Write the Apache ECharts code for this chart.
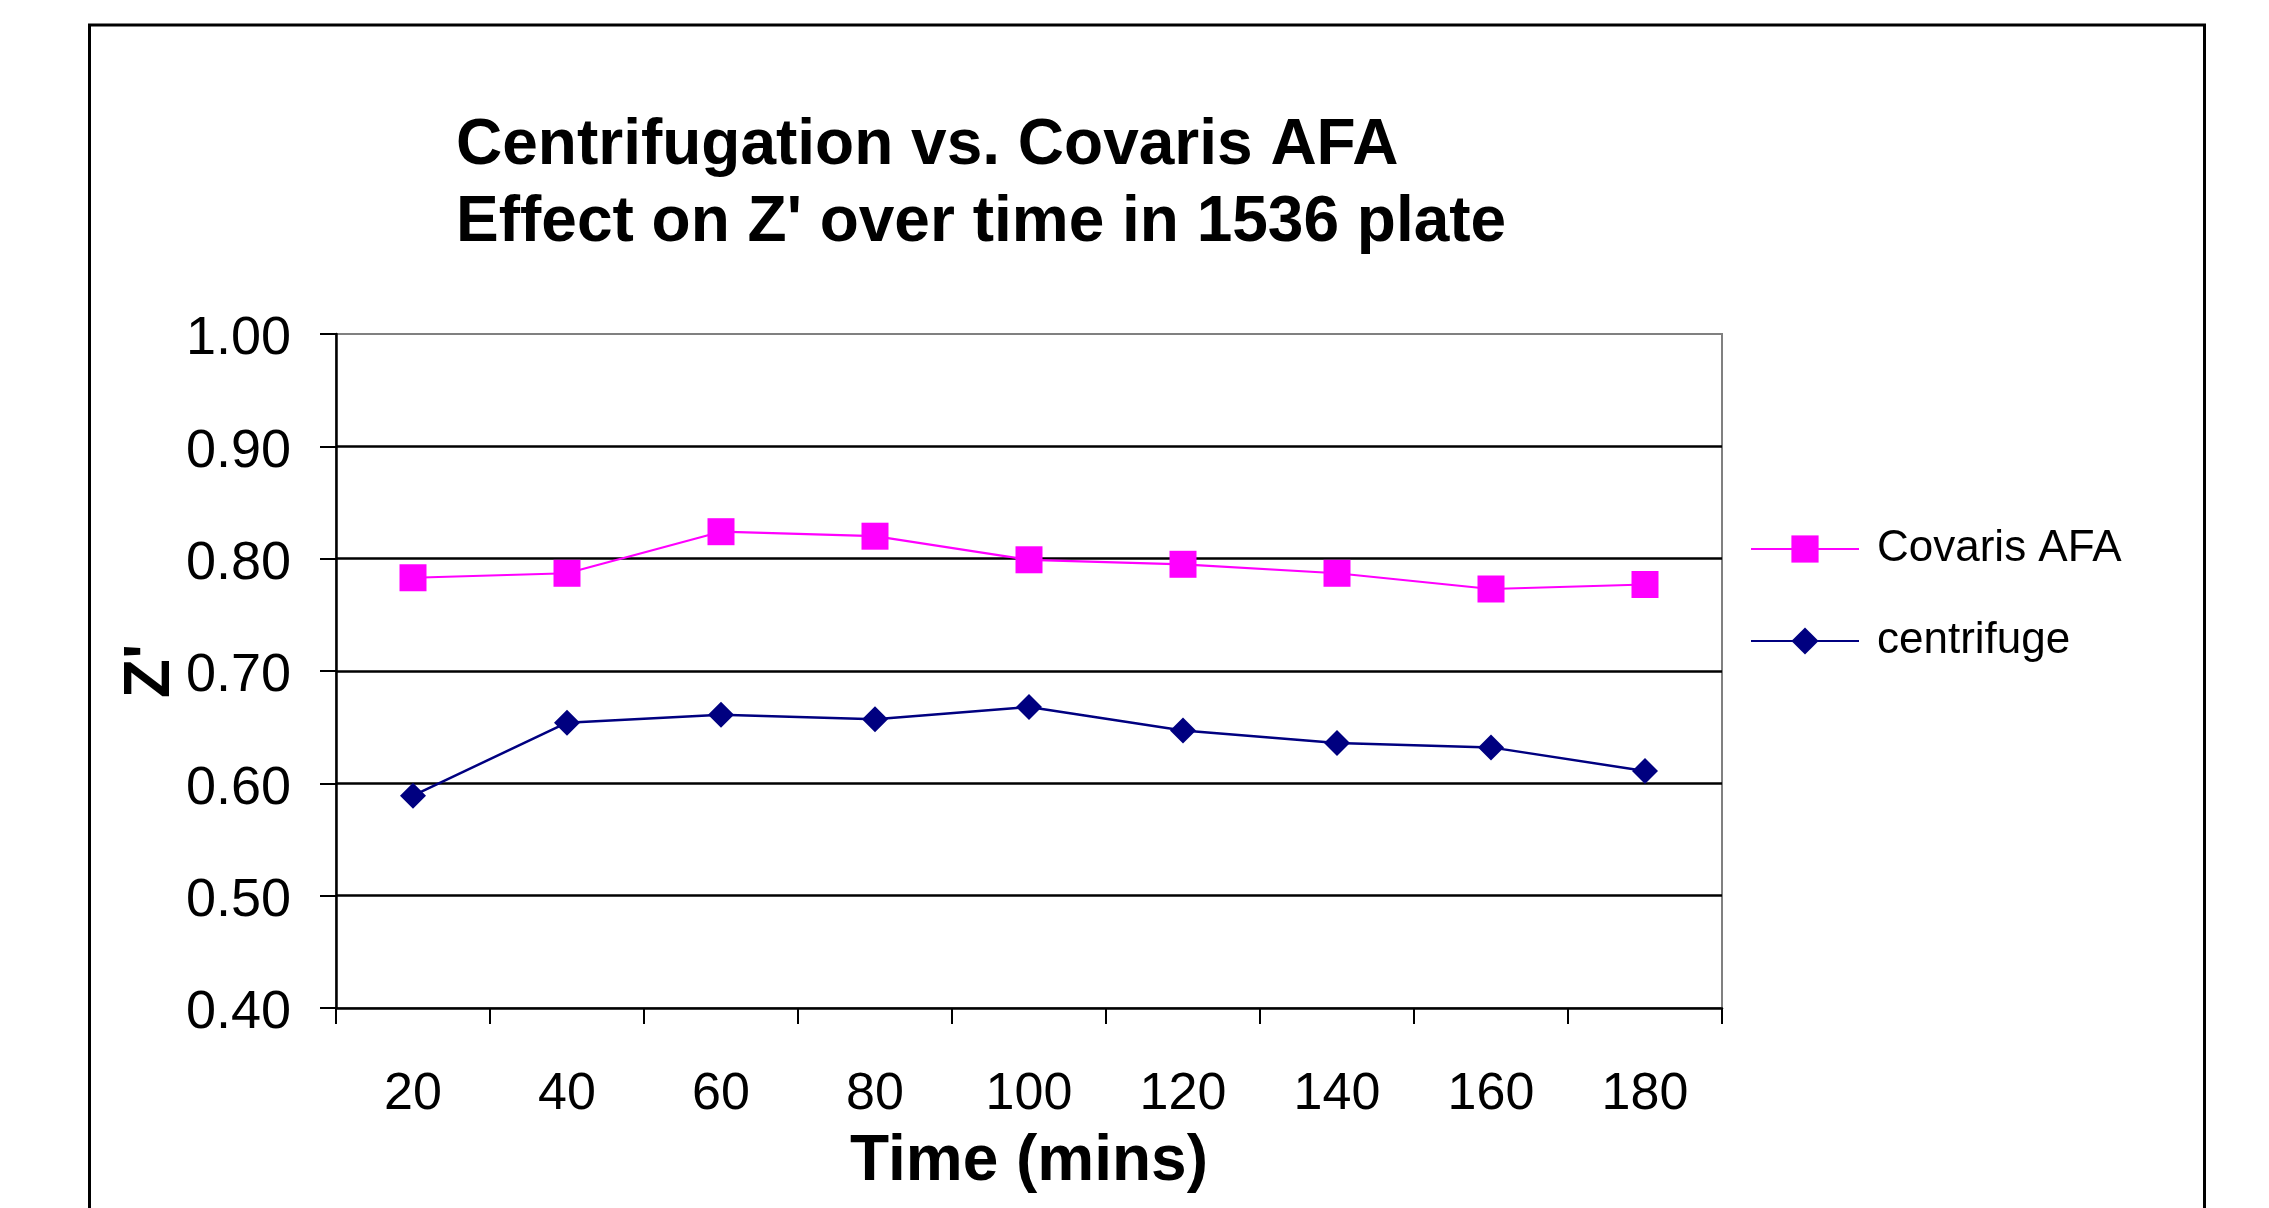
<!DOCTYPE html>
<html>
<head>
<meta charset="utf-8">
<script src="https://cdn.jsdelivr.net/npm/echarts@6/dist/echarts.min.js"></script>
<style>
html,body{margin:0;padding:0;background:#fff;}
#chart{width:2269px;height:1208px;}
</style>
</head>
<body>
<div id="chart"></div>
<script>
var categories = ['20', '40', '60', '80', '100', '120', '140', '160', '180'];
var covarisAFA = [0.783, 0.787, 0.824, 0.820, 0.799, 0.795, 0.787, 0.773, 0.777];
var centrifuge = [0.589, 0.654, 0.661, 0.657, 0.668, 0.647, 0.636, 0.632, 0.611];
var seriesNames = ['Covaris AFA', 'centrifuge'];
var titleText = 'Centrifugation vs. Covaris AFA\nEffect on Z\' over time in 1536 plate';

var FONT = '"Liberation Sans", Arial, sans-serif';
var chart = echarts.init(document.getElementById('chart'), null, {renderer: 'canvas'});
chart.setOption({
  backgroundColor: '#ffffff',
  animation: false,
  graphic: [{
    type: 'rect',
    shape: {x: 89.5, y: 25, width: 2115, height: 1400},
    style: {fill: 'none', stroke: '#000', lineWidth: 3},
    silent: true, z: 0
  }],
  title: {
    text: titleText,
    left: 456,
    top: 108,
    padding: 0,
    textStyle: {fontFamily: FONT, fontSize: 64, fontWeight: 'bold', color: '#000', lineHeight: 77}
  },
  legend: {
    orient: 'vertical',
    left: 1750,
    top: 527,
    itemWidth: 108,
    itemHeight: 34,
    itemGap: 48,
    padding: 0,
    data: seriesNames,
    textStyle: {fontFamily: FONT, fontSize: 44, color: '#000', lineHeight: 44, padding: [0, 0, 0, 13]}
  },
  grid: {
    left: 336, top: 334, width: 1386, height: 674,
    show: true, borderColor: '#808080', borderWidth: 2, backgroundColor: 'transparent'
  },
  xAxis: {
    type: 'category',
    data: categories,
    boundaryGap: true,
    name: 'Time (mins)',
    nameLocation: 'middle',
    nameGap: 122,
    nameTextStyle: {fontFamily: FONT, fontSize: 64, fontWeight: 'bold', color: '#000'},
    axisLine: {lineStyle: {color: '#000', width: 2.5}},
    axisTick: {show: true, length: 16, inside: false, lineStyle: {color: '#000', width: 2}},
    axisLabel: {fontFamily: FONT, fontSize: 52, color: '#000', margin: 61},
    splitLine: {show: false}
  },
  yAxis: {
    type: 'value',
    min: 0.4, max: 1.0, interval: 0.1,
    name: 'Z\'',
    nameLocation: 'middle',
    nameRotate: 90,
    nameGap: 153,
    nameMoveOverlap: false,
    nameTextStyle: {fontFamily: FONT, fontSize: 64, fontWeight: 'bold', color: '#000'},
    axisLine: {show: true, lineStyle: {color: '#000', width: 2.5}},
    axisTick: {show: true, length: 16, inside: false, lineStyle: {color: '#000', width: 2}},
    axisLabel: {fontFamily: FONT, fontSize: 54, color: '#000', margin: 45,
      verticalAlign: 'top', lineHeight: 11,
      formatter: function (v) { return v.toFixed(2); }},
    splitLine: {show: true, showMinLine: false, showMaxLine: false, lineStyle: {color: '#000', width: 2.5}}
  },
  series: [
    {
      name: seriesNames[0],
      type: 'line',
      data: covarisAFA,
      symbol: 'rect',
      symbolSize: 27,
      color: '#FF00FF',
      lineStyle: {color: '#FF00FF', width: 2.2},
      itemStyle: {color: '#FF00FF'},
      z: 3
    },
    {
      name: seriesNames[1],
      type: 'line',
      data: centrifuge,
      symbol: 'diamond',
      symbolSize: 26,
      color: '#000080',
      lineStyle: {color: '#000080', width: 2.5},
      itemStyle: {color: '#000080'},
      z: 3
    }
  ]
});
</script>
</body>
</html>
